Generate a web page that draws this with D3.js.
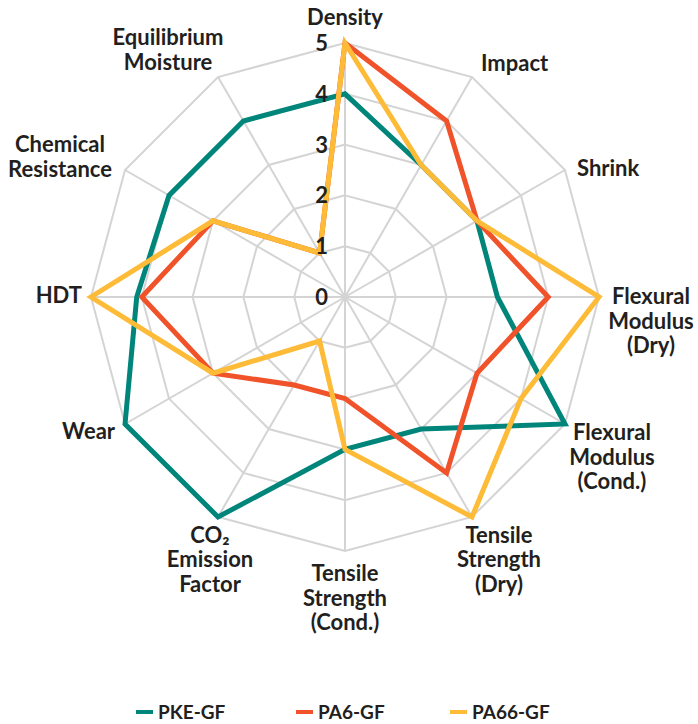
<!DOCTYPE html>
<html>
<head>
<meta charset="utf-8">
<script src="https://cdn.jsdelivr.net/npm/d3@7"></script>
<style>
  body { margin: 0; background: #fff; }
  text { font-family: Lato, "Noto Sans", sans-serif; font-weight: bold; fill: #231f20; }
</style>
</head>
<body>
<svg id="chart" width="698" height="724"></svg>
<script>
// axes clockwise from top
var axes = [
  ["Density"], ["Impact"], ["Shrink"], ["Flexural", "Modulus", "(Dry)"],
  ["Flexural", "Modulus", "(Cond.)"], ["Tensile", "Strength", "(Dry)"],
  ["Tensile", "Strength", "(Cond.)"], ["CO₂", "Emission", "Factor"],
  ["Wear"], ["HDT"], ["Chemical", "Resistance"], ["Equilibrium", "Moisture"]
]
var pke  = [4, 3, 3, 3, 5, 3, 3, 5, 5, 4.1, 4, 4]
var pa6  = [5, 4, 3, 4, 3, 4, 2, 2, 3, 4, 3, 1]
var pa66 = [5, 3, 3, 5, 4, 5, 3, 1, 3, 5, 3, 1]
var seriesNames = ["PKE-GF", "PA6-GF", "PA66-GF"]
var ticks = [0, 1, 2, 3, 4, 5]

var colors = ["#00857b", "#f0522a", "#fdbb37"]
var cx = 345, cy = 297

var svg = d3.select("#chart")
var g = svg.append("g").attr("transform", "translate(" + cx + "," + cy + ")")

var r = d3.scaleLinear().domain([0, 5]).range([0, 254])
var ang = d3.scaleLinear().domain([0, axes.length]).range([0, 2 * Math.PI])

function pt(i, v) {
  var a = ang(i)
  return [Math.sin(a) * r(v), -Math.cos(a) * r(v)]
}

// grid rings
ticks.slice(1).forEach(function (t) {
  g.append("polygon")
    .attr("points", axes.map(function (d, i) { return pt(i, t).join(",") }).join(" "))
    .attr("fill", "none").attr("stroke", "#d4d4d4").attr("stroke-width", 2)
})
// spokes
axes.forEach(function (d, i) {
  var p = pt(i, 5)
  g.append("line").attr("x1", 0).attr("y1", 0).attr("x2", p[0]).attr("y2", p[1])
    .attr("stroke", "#d4d4d4").attr("stroke-width", 2)
})

// series
var line = d3.lineRadial()
  .angle(function (d, i) { return ang(i) })
  .radius(function (d) { return r(d) })
  .curve(d3.curveLinearClosed);

[pke, pa6, pa66].forEach(function (s, k) {
  g.append("path").attr("d", line(s))
    .attr("fill", "none").attr("stroke", colors[k]).attr("stroke-width", 5)
    .attr("stroke-linejoin", "miter")
})

// axis labels: [dx, dy, anchor] relative to outer vertex
var lab = [
  [0, -18, "middle"], [9, -6, "start"], [12, 6, "start"], [52, 7, "middle"],
  [47, 16, "middle"], [27, 26, "middle"], [0, 30, "middle"], [-8, 26, "middle"],
  [-10, 15, "end"], [-9, 6, "end"], [-65, -18, "middle"], [-50, -32, "middle"]
]
axes.forEach(function (d, i) {
  var p = pt(i, 5)
  var t = svg.append("text")
    .attr("x", cx + p[0] + lab[i][0]).attr("y", cy + p[1] + lab[i][1])
    .attr("text-anchor", lab[i][2]).attr("font-size", "22px")
  d.forEach(function (s, j) {
    t.append("tspan").attr("x", cx + p[0] + lab[i][0]).attr("y", cy + p[1] + lab[i][1] + j * 24.5).text(s)
  })
})

// tick labels
ticks.forEach(function (t) {
  svg.append("text").text(t)
    .attr("x", cx - 17).attr("y", cy - r(t))
    .attr("dy", "0.36em").attr("text-anchor", "end").attr("font-size", "22px")
})

// legend
var legX = [136, 296, 450]
seriesNames.forEach(function (n, k) {
  svg.append("line").attr("x1", legX[k]).attr("x2", legX[k] + 17)
    .attr("y1", 712).attr("y2", 712).attr("stroke", colors[k]).attr("stroke-width", 4)
  svg.append("text").text(n).attr("x", legX[k] + 22).attr("y", 719).attr("font-size", "19px")
})
</script>
</body>
</html>
